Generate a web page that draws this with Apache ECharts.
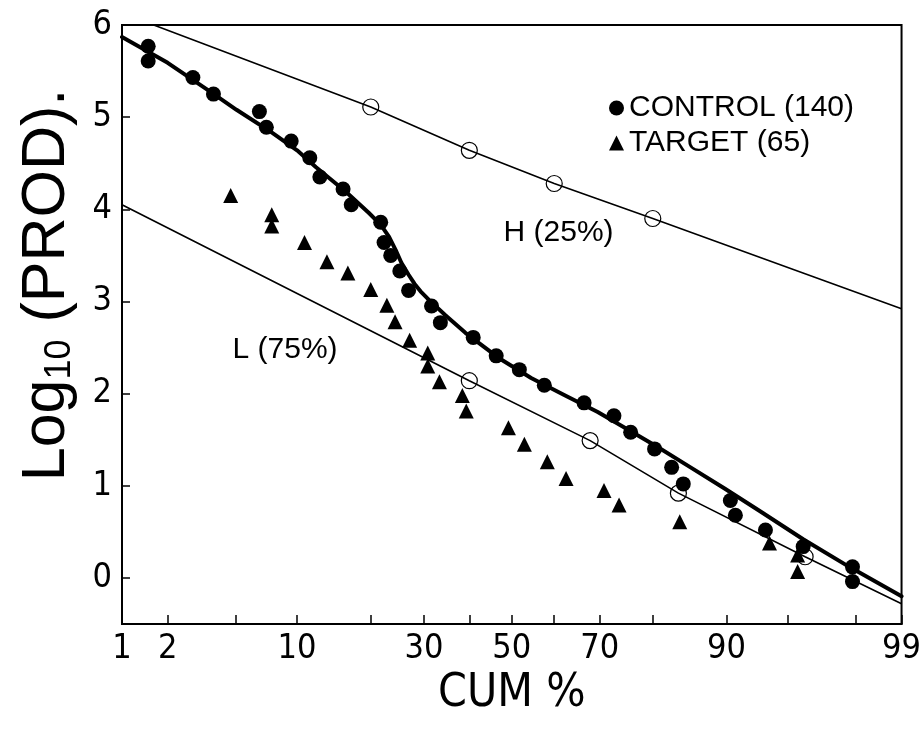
<!DOCTYPE html>
<html><head><meta charset="utf-8">
<script src="https://cdn.jsdelivr.net/npm/echarts@6/dist/echarts.min.js"></script>
<style>html,body{margin:0;padding:0;background:#fff}#c{width:924px;height:733px}</style>
</head><body><div id="c"></div>
<script>
// ---- data (cumulative % , log10 value) ----
const controlPct = [1.5, 1.5, 2.85, 3.75, 6.6, 7.15, 9.4, 11.4, 12.6, 15.7, 16.9, 21.7, 22.3, 23.5, 25.2, 26.9, 31.6, 33.5, 40.9, 46.3, 51.8, 57.7, 66.7, 72.9, 76.1, 80.3, 83.0, 84.7, 90.4, 90.9, 93.5, 95.9, 97.9, 97.9];
const controlVal = [5.77, 5.61, 5.43, 5.25, 5.06, 4.89, 4.74, 4.56, 4.35, 4.22, 4.05, 3.86, 3.64, 3.50, 3.33, 3.12, 2.95, 2.77, 2.61, 2.41, 2.26, 2.09, 1.90, 1.76, 1.58, 1.40, 1.20, 1.02, 0.84, 0.68, 0.52, 0.34, 0.12, -0.04];
const targetPct = [4.67, 7.6, 7.6, 10.8, 13.5, 16.4, 20.0, 22.8, 24.3, 27.1, 30.8, 30.8, 33.3, 38.4, 39.3, 49.2, 53.0, 58.4, 62.7, 70.9, 73.9, 84.2, 93.8, 95.6, 95.6];
const targetVal = [4.15, 3.94, 3.82, 3.64, 3.43, 3.31, 3.13, 2.96, 2.78, 2.58, 2.44, 2.30, 2.13, 1.98, 1.81, 1.63, 1.45, 1.26, 1.08, 0.95, 0.79, 0.61, 0.38, 0.25, 0.07];
const fitPct = [1, 2.0, 3.7, 5.02, 7.65, 10.0, 12.1, 16.1, 19.7, 21.4, 22.3, 23.2, 24.4, 25.5, 26.9, 28.1, 29.3, 31.0, 34.6, 39.1, 46.8, 54.6, 62.5, 69.6, 75.0, 80.8, 85.7, 89.8, 92.9, 95.9, 97.8, 99];
const fitVal = [5.87, 5.59, 5.26, 5.08, 4.83, 4.64, 4.46, 4.19, 3.96, 3.85, 3.78, 3.70, 3.56, 3.42, 3.29, 3.19, 3.11, 3.02, 2.85, 2.66, 2.39, 2.17, 1.98, 1.80, 1.63, 1.42, 1.20, 0.97, 0.74, 0.42, 0.12, -0.20];
const hLinePct = [1, 20, 40, 60, 80, 99];
const hLineVal = [6.13, 5.11, 4.64, 4.28, 3.90, 2.92];
const lLinePct = [1, 40, 68, 84, 96, 99];
const lLineVal = [4.05, 2.14, 1.49, 0.92, 0.23, -0.28];
const hCirclePct = [20, 40, 60, 80];
const hCircleVal = [5.11, 4.64, 4.28, 3.90];
const lCirclePct = [40, 68, 84, 96];
const lCircleVal = [2.14, 1.49, 0.92, 0.23];
const xTickPct = [1, 2, 5, 10, 20, 30, 40, 50, 60, 70, 80, 90, 95, 98, 99];
const xLabelPct = [1, 2, 10, 30, 50, 70, 90, 99];
const yTicks = [0, 1, 2, 3, 4, 5, 6];
const annotText = ['H (25%)', 'L (75%)'];
const annotPct = [61, 8.8];
const annotVal = [3.75, 2.48];

// ---- normal probability scale ----
function probit(p) {
  const a=[-3.969683028665376e+01,2.209460984245205e+02,-2.759285104469687e+02,1.383577518672690e+02,-3.066479806614716e+01,2.506628277459239e+00];
  const b=[-5.447609879822406e+01,1.615858368580409e+02,-1.556989798598866e+02,6.680131188771972e+01,-1.328068155288572e+01];
  const c=[-7.784894002430293e-03,-3.223964580411365e-01,-2.400758277161838e+00,-2.549732539343734e+00,4.374664141464968e+00,2.938163982698783e+00];
  const d=[7.784695709041462e-03,3.224671290700398e-01,2.445134137142996e+00,3.754408661907416e+00];
  const pl=0.02425, ph=1-pl; let q,r;
  if(p<pl){q=Math.sqrt(-2*Math.log(p));return (((((c[0]*q+c[1])*q+c[2])*q+c[3])*q+c[4])*q+c[5])/((((d[0]*q+d[1])*q+d[2])*q+d[3])*q+1);}
  if(p<=ph){q=p-0.5;r=q*q;return (((((a[0]*r+a[1])*r+a[2])*r+a[3])*r+a[4])*r+a[5])*q/(((((b[0]*r+b[1])*r+b[2])*r+b[3])*r+b[4])*r+1);}
  q=Math.sqrt(-2*Math.log(1-p));return -(((((c[0]*q+c[1])*q+c[2])*q+c[3])*q+c[4])*q+c[5])/((((d[0]*q+d[1])*q+d[2])*q+d[3])*q+1);
}
const z = pct => probit(pct / 100);
const pairs = (xs, ys) => xs.map((p, i) => [z(p), ys[i]]);

const narrow = "'Liberation Sans Narrow','DejaVu Sans Condensed','Liberation Sans',Arial,sans-serif";
const sans = "'Liberation Sans',Arial,Helvetica,sans-serif";

const chart = echarts.init(document.getElementById('c'), null, {renderer: 'canvas'});
chart.setOption({
  backgroundColor: '#fff',
  animation: false,
  grid: {left: 122, right: 19, top: 25, bottom: 109, show: true, borderColor: '#000', borderWidth: 2, backgroundColor: 'transparent'},
  legend: {
    orient: 'vertical', left: 604, top: 88, itemWidth: 15, itemHeight: 15, itemGap: 5,
    textStyle: {fontFamily: sans, fontSize: 30, color: '#000'},
    data: [{name: 'CONTROL (140)', icon: 'circle'}, {name: 'TARGET (65)', icon: 'triangle'}]
  },
  xAxis: {
    type: 'value', min: z(xTickPct[0]), max: z(xTickPct[xTickPct.length - 1]),
    name: 'CUM %', nameLocation: 'middle', nameGap: 46,
    nameTextStyle: {fontFamily: narrow, fontSize: 46, color: '#000'},
    axisLine: {show: true, onZero: false, lineStyle: {color: '#000', width: 2}},
    axisTick: {show: true, inside: true, length: 9, lineStyle: {color: '#000', width: 1.5}, customValues: xTickPct.map(z)},
    axisLabel: {
      show: true, margin: 8, color: '#000', fontFamily: narrow, fontSize: 34,
      customValues: xLabelPct.map(z),
      formatter: v => {
        let best = xLabelPct[0];
        xLabelPct.forEach(p => { if (Math.abs(z(p) - v) < Math.abs(z(best) - v)) best = p; });
        return String(best);
      }
    },
    splitLine: {show: false}
  },
  yAxis: {
    type: 'value', min: -0.5, max: 6,
    axisLine: {show: true, onZero: false, lineStyle: {color: '#000', width: 2}},
    axisTick: {show: true, inside: true, length: 8, lineStyle: {color: '#000', width: 1.5}, customValues: yTicks},
    axisLabel: {show: true, margin: 10, color: '#000', fontFamily: narrow, fontSize: 34, customValues: yTicks},
    splitLine: {show: false}
  },
  graphic: [{
    type: 'text', x: 47, y: 285, rotation: Math.PI / 2,
    style: {
      text: 'Log{sub|10} (PROD).', align: 'center', verticalAlign: 'middle',
      fontFamily: sans, fontSize: 61, fill: '#000',
      rich: {sub: {fontFamily: sans, fontSize: 36, fill: '#000', padding: [26, 0, 0, 0]}}
    }
  }],
  series: [
    {type: 'line', name: 'fit', data: pairs(fitPct, fitVal), smooth: false, symbol: 'none', lineStyle: {color: '#000', width: 4, join: 'round', cap: 'round'}, z: 3},
    {type: 'line', name: 'H', data: pairs(hLinePct, hLineVal), symbol: 'none', lineStyle: {color: '#000', width: 1.6}, z: 2},
    {type: 'line', name: 'L', data: pairs(lLinePct, lLineVal), symbol: 'none', lineStyle: {color: '#000', width: 1.6}, z: 2},
    {type: 'scatter', name: 'Hc', data: pairs(hCirclePct, hCircleVal), symbol: 'circle', symbolSize: 16, itemStyle: {color: 'rgba(255,255,255,0)', borderColor: '#000', borderWidth: 1.2, opacity: 1}, z: 4},
    {type: 'scatter', name: 'Lc', data: pairs(lCirclePct, lCircleVal), symbol: 'circle', symbolSize: 16, itemStyle: {color: 'rgba(255,255,255,0)', borderColor: '#000', borderWidth: 1.2, opacity: 1}, z: 4},
    {type: 'scatter', name: 'CONTROL (140)', data: pairs(controlPct, controlVal), symbol: 'circle', symbolSize: 15, itemStyle: {color: '#000', opacity: 1}, z: 5},
    {type: 'scatter', name: 'TARGET (65)', data: pairs(targetPct, targetVal), symbol: 'triangle', symbolSize: 15, itemStyle: {color: '#000', opacity: 1}, z: 5},
    {type: 'scatter', name: 'annot', data: annotPct.map((p, i) => ({value: [z(p), annotVal[i]], label: {formatter: annotText[i]}})),
      symbolSize: 1, itemStyle: {color: 'rgba(0,0,0,0)', opacity: 1}, silent: true,
      label: {show: true, position: 'inside', color: '#000', opacity: 1, fontFamily: sans, fontSize: 30}, z: 6}
  ]
});
</script></body></html>
